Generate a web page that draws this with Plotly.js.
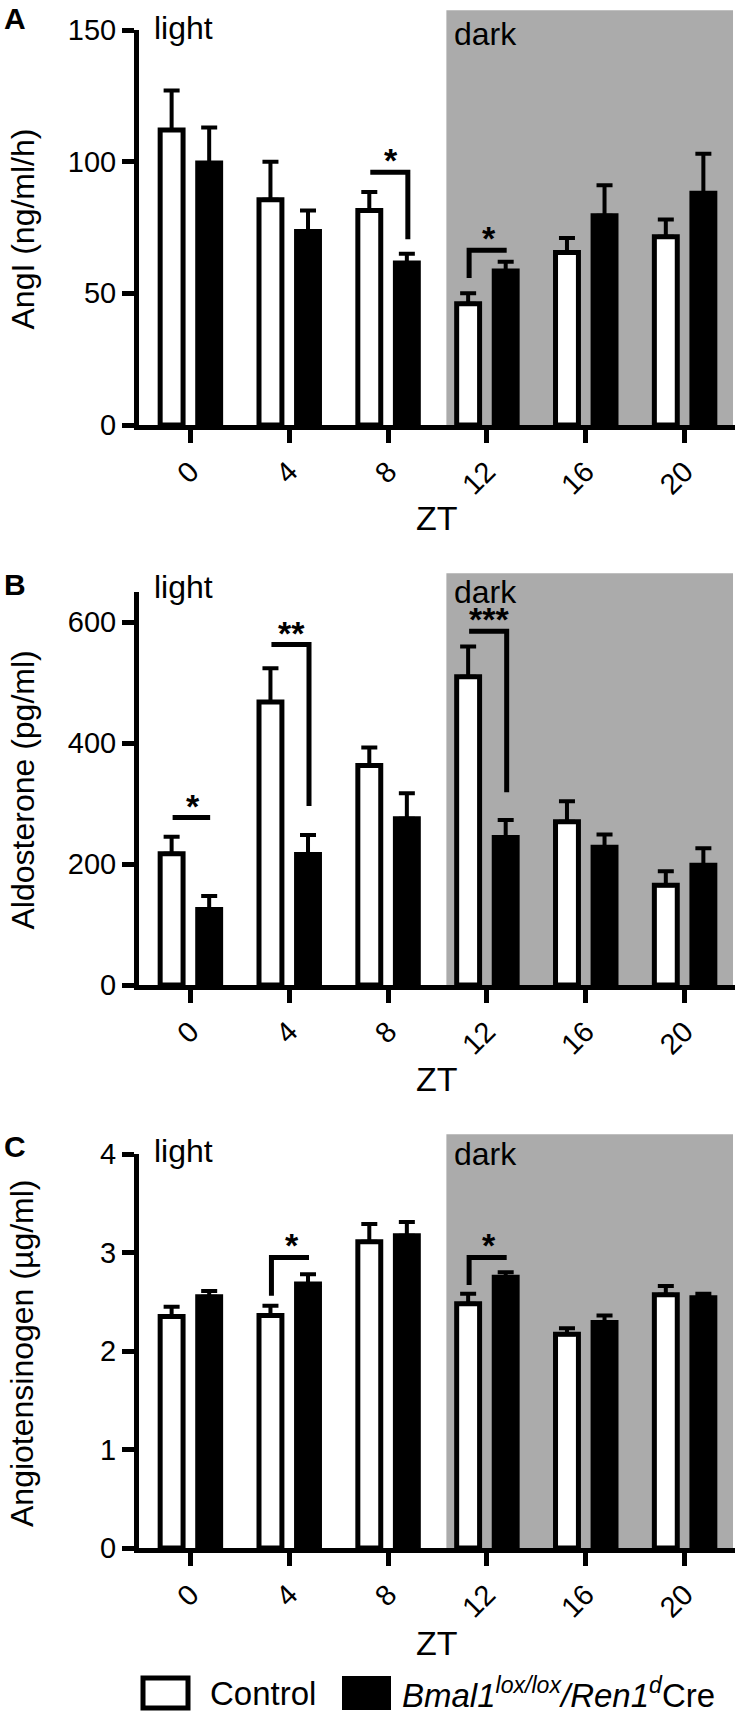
<!DOCTYPE html>
<html>
<head>
<meta charset="utf-8">
<script src="https://cdn.plot.ly/plotly-3.0.1.min.js"></script>
<style>
  body { margin: 0; background: #fff; }
  #fig { width: 737px; height: 1713px; }
</style>
</head>
<body>
<div id="fig"></div>
<script>
// ZT (hours)
var zt = [0, 4, 8, 12, 16, 20];

// A: AngI (ng/ml/h), mean and SEM
var angCtrl = [112, 85.5, 81.5, 46, 65.5, 71.5];
var angCtrlSem = [15, 14.5, 7, 4, 5.5, 6.5];
var angKo = [99.5, 73.5, 61.5, 58.5, 79.5, 88];
var angKoSem = [13.5, 8, 3.5, 3.5, 11.5, 15];

// B: Aldosterone (pg/ml)
var aldoCtrl = [217, 468, 363, 510, 270, 165];
var aldoCtrlSem = [28, 56, 30, 50, 34, 23];
var aldoKo = [125, 216, 275, 244, 228, 198];
var aldoKoSem = [22, 32, 42, 29, 21, 28];

// C: Angiotensinogen (ug/ml)
var agtCtrl = [2.35, 2.36, 3.11, 2.48, 2.17, 2.57];
var agtCtrlSem = [0.10, 0.10, 0.18, 0.10, 0.06, 0.09];
var agtKo = [2.55, 2.68, 3.17, 2.75, 2.29, 2.54];
var agtKoSem = [0.06, 0.10, 0.14, 0.05, 0.07, 0.04];

// significance brackets: ZT, label, bracket height, drop end, side of the drop
var angSigZt = [8, 12];
var angSigLabel = ['*', '*'];
var angSigTop = [96, 66.4];
var angSigEnd = [70.5, 55.8];
var angSigSide = ['ko', 'ctrl'];

var aldoSigZt = [0, 4, 12];
var aldoSigLabel = ['*', '**', '***'];
var aldoSigTop = [277, 563, 585];
var aldoSigEnd = [277, 296, 319];
var aldoSigSide = ['none', 'ko', 'ko'];

var agtSigZt = [4, 12];
var agtSigLabel = ['*', '*'];
var agtSigTop = [2.95, 2.95];
var agtSigEnd = [2.56, 2.67];
var agtSigSide = ['ctrl', 'ctrl'];

var W = 737, H = 1713;
var FONT = '"Liberation Sans", Arial, sans-serif';
function px(x) { return x / W; }
function py(y) { return 1 - y / H; }

var darkStart = 10.36, darkEnd = 21.96;
var xRange = [-2.08, 22.04];

var traces = [];
var shapes = [];
var annotations = [];
var layout = {
  width: W, height: H,
  margin: {l: 0, r: 0, t: 0, b: 0},
  paper_bgcolor: '#fff',
  plot_bgcolor: 'rgba(0,0,0,0)',
  barmode: 'group',
  bargap: 0.24,
  bargroupgap: 0.39,
  showlegend: false,
  font: {family: FONT, color: '#000'}
};

function addPanel(n, opts) {
  var xid = n === 1 ? 'x' : 'x' + n;
  var yid = n === 1 ? 'y' : 'y' + n;
  var zeros = zt.map(function() { return 0; });

  traces.push({
    type: 'bar', name: 'Control', x: zt, y: opts.ctrl, xaxis: xid, yaxis: yid,
    marker: {color: '#fff', line: {color: '#000', width: 5}},
    error_y: {type: 'data', symmetric: false, array: opts.ctrlSem, arrayminus: zeros,
              color: '#000', thickness: 4, width: 8}
  });
  traces.push({
    type: 'bar', name: 'Bmal1 lox/lox / Ren1d Cre', x: zt, y: opts.ko, xaxis: xid, yaxis: yid,
    marker: {color: '#000', line: {color: '#000', width: 5}},
    error_y: {type: 'data', symmetric: false, array: opts.koSem, arrayminus: zeros,
              color: '#000', thickness: 4, width: 8}
  });

  layout['xaxis' + (n === 1 ? '' : n)] = {
    anchor: yid, domain: [px(139), px(735)], range: xRange,
    tickvals: zt, ticktext: zt.map(String), tickangle: -45,
    tickfont: {size: 29},
    ticks: 'outside', ticklen: 13, tickwidth: 5, tickcolor: '#000',
    showline: true, linewidth: 5, linecolor: '#000',
    showgrid: false, zeroline: false, fixedrange: true
  };
  layout['yaxis' + (n === 1 ? '' : n)] = {
    anchor: xid, domain: [py(opts.bottom), py(opts.top)], range: opts.yRange,
    tickvals: opts.yTicks, tickfont: {size: 29},
    ticks: 'outside', ticklen: 12, tickwidth: 5, tickcolor: '#000',
    showline: true, linewidth: 5, linecolor: '#000',
    showgrid: false, zeroline: false, fixedrange: true
  };

  // dark phase background
  shapes.push({
    type: 'rect', xref: xid, yref: yid + ' domain', layer: 'below',
    x0: darkStart, x1: darkEnd, y0: 0, y1: opts.grayTop,
    fillcolor: '#ababab', line: {width: 0}
  });

  // significance brackets
  opts.sigZt.forEach(function(z, i) {
    var xl = z - 0.72, xr = z + 0.8, yt = opts.sigTop[i];
    var path = 'M' + xl + ',' + yt + ' L' + xr + ',' + yt;
    if (opts.sigSide[i] === 'ko') path += ' L' + xr + ',' + opts.sigEnd[i];
    if (opts.sigSide[i] === 'ctrl') path = 'M' + xl + ',' + opts.sigEnd[i] + ' L' + xl + ',' + yt + ' L' + xr + ',' + yt;
    shapes.push({type: 'path', xref: xid, yref: yid, path: path,
                 line: {color: '#000', width: 5}});
    annotations.push({
      xref: xid, yref: yid, x: z + 0.1, y: yt, yanchor: 'bottom', yshift: -9,
      text: '<b>' + opts.sigLabel[i] + '</b>', showarrow: false,
      font: {size: 34}
    });
  });

  // light / dark labels
  annotations.push({xref: xid, yref: yid + ' domain', x: -1.56, y: opts.lightY,
    xanchor: 'left', yanchor: 'middle', text: 'light', showarrow: false, font: {size: 32}});
  annotations.push({xref: xid, yref: yid + ' domain', x: 10.59, y: opts.darkY,
    xanchor: 'left', yanchor: 'middle', text: 'dark', showarrow: false, font: {size: 32}});

  // panel letter, y title, x title
  annotations.push({xref: 'paper', yref: 'paper', x: px(2), y: py(opts.letterY),
    xanchor: 'left', yanchor: 'top', text: '<b>' + opts.letter + '</b>',
    showarrow: false, font: {size: 30}});
  annotations.push({xref: 'paper', yref: 'paper', x: px(22), y: py((opts.top + opts.bottom) / 2 + 2),
    xanchor: 'center', yanchor: 'middle', textangle: -90, text: opts.yTitle,
    showarrow: false, font: {size: 32}});
  annotations.push({xref: 'paper', yref: 'paper', x: px(437), y: py(opts.ztY),
    xanchor: 'center', yanchor: 'middle', text: 'ZT', showarrow: false, font: {size: 34}});
}

addPanel(1, {
  ctrl: angCtrl, ctrlSem: angCtrlSem, ko: angKo, koSem: angKoSem,
  top: 30, bottom: 425, yRange: [0, 150], yTicks: [0, 50, 100, 150], grayTop: 1.05,
  sigZt: angSigZt, sigLabel: angSigLabel, sigTop: angSigTop, sigEnd: angSigEnd, sigSide: angSigSide,
  lightY: 1.005, darkY: 0.99, letter: 'A', letterY: 0, yTitle: 'AngI (ng/ml/h)', ztY: 518
});
addPanel(2, {
  ctrl: aldoCtrl, ctrlSem: aldoCtrlSem, ko: aldoKo, koSem: aldoKoSem,
  top: 592, bottom: 985, yRange: [0, 650], yTicks: [0, 200, 400, 600], grayTop: 1.048,
  sigZt: aldoSigZt, sigLabel: aldoSigLabel, sigTop: aldoSigTop, sigEnd: aldoSigEnd, sigSide: aldoSigSide,
  lightY: 1.013, darkY: 1.0, letter: 'B', letterY: 566, yTitle: 'Aldosterone (pg/ml)', ztY: 1079
});
addPanel(3, {
  ctrl: agtCtrl, ctrlSem: agtCtrlSem, ko: agtKo, koSem: agtKoSem,
  top: 1154, bottom: 1548, yRange: [0, 4], yTicks: [0, 1, 2, 3, 4], grayTop: 1.05,
  sigZt: agtSigZt, sigLabel: agtSigLabel, sigTop: agtSigTop, sigEnd: agtSigEnd, sigSide: agtSigSide,
  lightY: 1.008, darkY: 1.0, letter: 'C', letterY: 1128, yTitle: 'Angiotensinogen (\u00b5g/ml)', ztY: 1643
});

// legend drawn by hand (large boxes)
shapes.push({type: 'rect', xref: 'paper', yref: 'paper',
  x0: px(143), x1: px(188), y0: py(1708), y1: py(1678),
  fillcolor: '#fff', line: {color: '#000', width: 5}});
shapes.push({type: 'rect', xref: 'paper', yref: 'paper',
  x0: px(342), x1: px(391), y0: py(1710), y1: py(1676),
  fillcolor: '#000', line: {color: '#000', width: 0}});
annotations.push({xref: 'paper', yref: 'paper', x: px(208), y: py(1693),
  xanchor: 'left', yanchor: 'middle', text: 'Control', showarrow: false, font: {size: 33}});
annotations.push({xref: 'paper', yref: 'paper', x: px(400), y: py(1693),
  xanchor: 'left', yanchor: 'middle',
  text: '<i>Bmal1</i><sup><i>lox/lox</i></sup><i>/Ren1</i><sup><i>d</i></sup>Cre',
  showarrow: false, font: {size: 33}});

layout.shapes = shapes;
layout.annotations = annotations;

Plotly.newPlot(document.getElementById('fig'), traces, layout, {staticPlot: true});
</script>
</body>
</html>
